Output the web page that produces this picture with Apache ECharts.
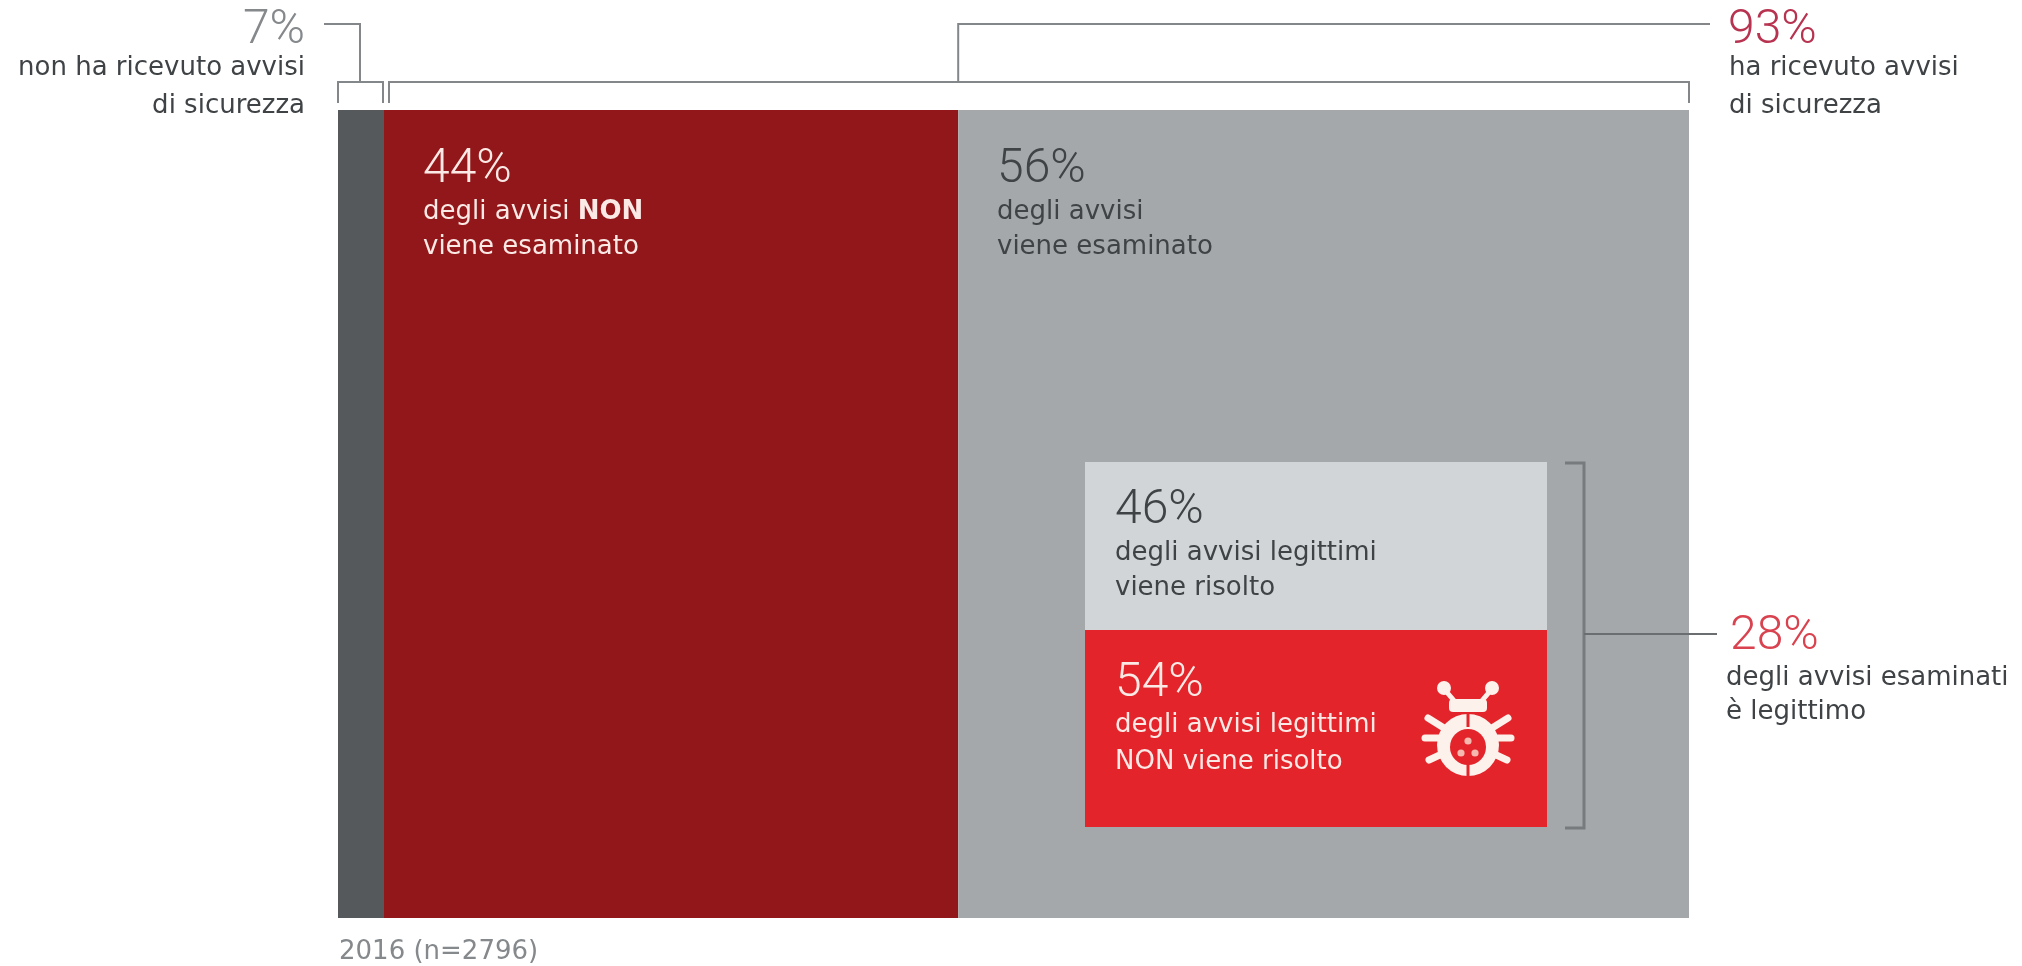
<!DOCTYPE html>
<html lang="it">
<head>
<meta charset="utf-8">
<title>Avvisi di sicurezza 2016</title>
<style>
  html, body { margin: 0; padding: 0; background: #fff; }
  #chart { width: 2022px; height: 966px; }
</style>
<script src="https://cdn.jsdelivr.net/npm/echarts@6/dist/echarts.min.js"></script>
</head>
<body>
<div id="chart"></div>
<script>
// Percentages printed on the chart
const noAlerts = [7];
const gotAlerts = [93];
const notReviewed = [44];
const reviewed = [56];
const legitimateShare = [28];
const resolved = [46];
const notResolved = [54];
const sampleLabel = ['2016 (n=2796)'];

// Panel geometry: each nested block has its own scale
const TOP = 110, BOTTOM = 918, LEFT = 338, SPLIT = 384, RIGHT = 1689;
const INNER = { x0: 1085, x1: 1547, y0: 462, y1: 827 };
const REVIEW_EDGE = SPLIT + (RIGHT - SPLIT) * notReviewed[0] / (notReviewed[0] + reviewed[0]);

const BODY_FONT = '"DejaVu Sans", Verdana, sans-serif';
const BIG_FONT = 'Roboto, "Liberation Sans", sans-serif';
const BODY_SIZE = 26, BIG_SIZE = 48;
const INK = '#3f4346', PALE = '#fbe9e6', CRIMSON = '#b73350', LINE = '#83878a';
const LAYER = 20;

const C = {
  dark: '#55595c', deepRed: '#92171a', grey: '#a5a8ab',
  light: '#d1d5d8', red: '#e3242a'
};

function bar(name, value, color, axisIndex, stack) {
  return {
    type: 'bar', name, data: [value], stack,
    xAxisIndex: axisIndex, yAxisIndex: axisIndex,
    barWidth: '100%', silent: true,
    itemStyle: { color }
  };
}

function text(str, x, y, fill, align, extra) {
  return {
    type: 'text', silent: true, z: LAYER,
    style: Object.assign({
      text: str, x, y, fill,
      fontSize: BODY_SIZE, fontFamily: BODY_FONT,
      textAlign: align || 'left', textVerticalAlign: 'middle'
    }, extra || {})
  };
}

function bigText(str, x, y, fill, align) {
  return text(str, x, y, fill, align, {
    fontSize: BIG_SIZE, fontFamily: BIG_FONT, fontWeight: 300
  });
}

function path(points, color, width) {
  return {
    type: 'polyline', silent: true, z: LAYER,
    shape: { points },
    style: { stroke: color, lineWidth: width || 2, fill: null }
  };
}

// Brackets and leader lines around the panel
const brackets = [
  path([[324, 24], [360, 24], [360, 82]], LINE),
  path([[338, 103], [338, 82], [383, 82], [383, 103]], LINE),
  path([[389, 103], [389, 82], [RIGHT, 82], [RIGHT, 103]], LINE),
  path([[REVIEW_EDGE, 82], [REVIEW_EDGE, 24], [1710, 24]], LINE),
  path([[1565, 463], [1584, 463], [1584, 828], [1565, 828]], '#777b7e', 3),
  path([[1584, 634], [1717, 634]], '#6a6e71')
];

// Ladybug-style icon on the unresolved block
function bugIcon(cx, cy) {
  const W = '#fdf1ec', parts = [];
  const stroke = (pts, w) => parts.push({
    type: 'polyline', silent: true, z: LAYER, shape: { points: pts.map(p => [cx + p[0], cy + p[1]]) },
    style: { stroke: W, lineWidth: w, fill: null, lineCap: 'round' }
  });
  const disc = (dx, dy, r, fill, z) => parts.push({
    type: 'circle', silent: true, z: z || LAYER, shape: { cx: cx + dx, cy: cy + dy, r }, style: { fill }
  });
  const block = (x, y, width, height, fill, z, r) => parts.push({
    type: 'rect', silent: true, z: z || LAYER,
    shape: { x: cx + x, y: cy + y, width, height, r: r || 0 }, style: { fill }
  });
  stroke([[-12, -42], [-23, -55]], 5);
  stroke([[12, -42], [23, -55]], 5);
  disc(-24, -57, 7, W);
  disc(24, -57, 7, W);
  block(-19, -46, 38, 13, W, LAYER, 4);
  [[-40, -27, -24, -17], [-43, -7, -25, -7], [-39, 15, -24, 8]].forEach(l => {
    stroke([[l[0], l[1]], [l[2], l[3]]], 7);
    stroke([[-l[0], l[1]], [-l[2], l[3]]], 7);
  });
  disc(0, 0, 31, W);
  disc(0, 2, 18, C.red, LAYER + 1);
  block(-1.5, -32, 3, 14, C.red, LAYER + 1);
  block(-1.5, 19, 3, 13, C.red, LAYER + 1);
  // Small hazard mark in the centre of the body
  [[0, -6], [-7, 6], [7, 6]].forEach(p => disc(p[0], p[1] + 2, 3.6, '#f6b9b0', LAYER + 2));
  return parts;
}

const labels = [
  bigText(noAlerts[0] + '%', 305, 31, '#85898c', 'right'),
  text('non ha ricevuto avvisi', 305, 68, INK, 'right'),
  text('di sicurezza', 305, 106, INK, 'right'),

  bigText(gotAlerts[0] + '%', 1728, 31, CRIMSON),
  text('ha ricevuto avvisi', 1729, 68, INK),
  text('di sicurezza', 1729, 106, INK),

  bigText(notReviewed[0] + '%', 423, 170, PALE),
  text('degli avvisi {b|NON}', 423, 212, PALE, 'left', {
    rich: { b: { fontWeight: 'bold', fontSize: BODY_SIZE, fontFamily: BODY_FONT, fill: PALE } }
  }),
  text('viene esaminato', 423, 247, PALE),

  bigText(reviewed[0] + '%', 997, 170, INK),
  text('degli avvisi', 997, 212, INK),
  text('viene esaminato', 997, 247, INK),

  bigText(resolved[0] + '%', 1115, 511, INK),
  text('degli avvisi legittimi', 1115, 553, INK),
  text('viene risolto', 1115, 588, INK),

  bigText(notResolved[0] + '%', 1115, 684, PALE),
  text('degli avvisi legittimi', 1115, 725, PALE),
  text('NON viene risolto', 1115, 762, PALE),

  bigText(legitimateShare[0] + '%', 1730, 637, '#d9434f'),
  text('degli avvisi esaminati', 1726, 678, INK),
  text('è legittimo', 1726, 712, INK),

  text(sampleLabel[0], 339, 952, '#85898c')
];

const grids = [
  { left: LEFT, top: TOP, width: SPLIT - LEFT, height: BOTTOM - TOP },
  { left: SPLIT, top: TOP, width: RIGHT - SPLIT, height: BOTTOM - TOP },
  { left: INNER.x0, top: INNER.y0, width: INNER.x1 - INNER.x0, height: INNER.y1 - INNER.y0 }
];

const hiddenAxis = (type, gridIndex, extra) =>
  Object.assign({ type, gridIndex, show: false }, extra);

const chart = echarts.init(document.getElementById('chart'), null, { renderer: 'canvas' });
chart.setOption({
  animation: false,
  backgroundColor: '#ffffff',
  grid: grids,
  xAxis: [
    hiddenAxis('value', 0, { min: 0, max: noAlerts[0] }),
    hiddenAxis('value', 1, { min: 0, max: notReviewed[0] + reviewed[0] }),
    hiddenAxis('category', 2, { data: ['avvisi legittimi'] })
  ],
  yAxis: [
    hiddenAxis('category', 0, { data: ['2016'] }),
    hiddenAxis('category', 1, { data: ['2016'] }),
    hiddenAxis('value', 2, { min: 0, max: resolved[0] + notResolved[0], inverse: true })
  ],
  series: [
    bar('non ha ricevuto avvisi', noAlerts[0], C.dark, 0, 'none'),
    bar('non esaminato', notReviewed[0], C.deepRed, 1, 'review'),
    bar('esaminato', reviewed[0], C.grey, 1, 'review'),
    bar('risolto', resolved[0], C.light, 2, 'outcome'),
    bar('non risolto', notResolved[0], C.red, 2, 'outcome')
  ],
  graphic: { elements: [...brackets, ...labels, ...bugIcon(1468, 745)] }
});
</script>
</body>
</html>
